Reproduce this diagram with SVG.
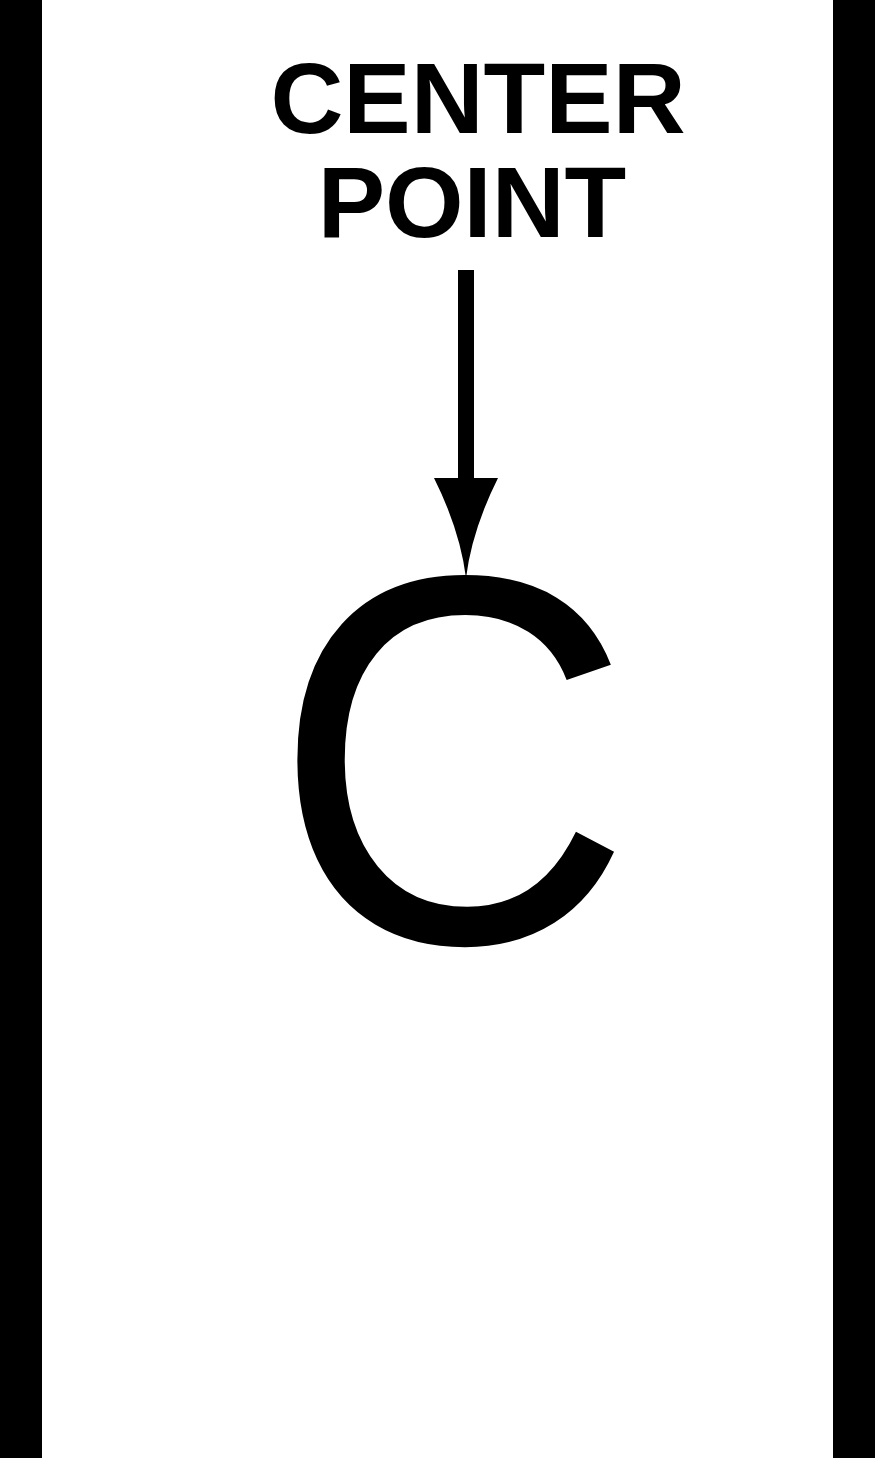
<svg xmlns="http://www.w3.org/2000/svg" width="875" height="1458" viewBox="0 0 875 1458">
  <style>
    .bar { fill: #000; }
    .label { font-family: "Liberation Sans", Arial, sans-serif; font-weight: bold; font-size: 101px; fill: #000; text-anchor: middle; }
    .big { font-family: "Liberation Sans", Arial, sans-serif; font-size: 500px; fill: #000; }
  </style>
  <rect width="875" height="1458" fill="#fff"/>
  <g id="walls">
    <rect class="bar" x="0" y="0" width="42" height="1458"/>
    <rect class="bar" x="833" y="0" width="42" height="1458"/>
  </g>
  <g id="label">
    <text class="label" x="478" y="133">CENTER</text>
    <text class="label" x="472" y="237">POINT</text>
  </g>
  <g id="connectors">
    <rect x="458" y="270" width="16" height="210" fill="#000"/>
    <path d="M434,478 L498,478 Q472,530 466,578 Q460,530 434,478 Z" fill="#000"/>
  </g>
  <g id="letter">
    <text class="big" x="272" y="0" transform="translate(0,942) scale(1,1.051)">C</text>
  </g>
</svg>
